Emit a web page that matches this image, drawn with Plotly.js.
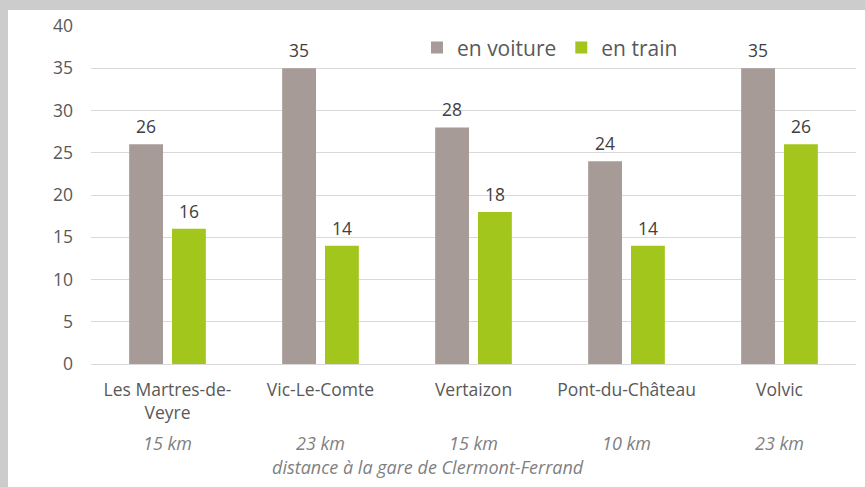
<!DOCTYPE html>
<html>
<head>
<meta charset="utf-8">
<script src="https://cdn.plot.ly/plotly-3.0.1.min.js"></script>
<style>
  body { margin: 0; background: #cccccc; }
  #chart { position: absolute; left: 8px; top: 10px; width: 857px; height: 477px; background: #fff; }
</style>
</head>
<body>
<div id="chart"></div>
<script>
// Temps de trajet (minutes) vers Clermont-Ferrand
var villes = ['Les Martres-de-<br>Veyre', 'Vic-Le-Comte', 'Vertaizon', 'Pont-du-Château', 'Volvic'];
var distances = ['15 km', '23 km', '15 km', '10 km', '23 km'];
var voiture = [26, 35, 28, 24, 35];
var train = [16, 14, 18, 14, 26];
var yTicks = [0, 5, 10, 15, 20, 25, 30, 35, 40];

var couleurVoiture = '#a69b97';
var couleurTrain = '#a2c61c';

var plotDiv = document.getElementById('chart');

var data = [
  {
    type: 'bar',
    name: 'en voiture',
    x: villes,
    y: voiture,
    marker: { color: couleurVoiture },
    hoverinfo: 'y'
  },
  {
    type: 'bar',
    name: 'en train',
    x: villes,
    y: train,
    marker: { color: couleurTrain },
    hoverinfo: 'y'
  }
];

var annotations = [];

// valeurs au-dessus des barres
for (var i = 0; i < villes.length; i++) {
  annotations.push({
    x: villes[i], y: voiture[i], xref: 'x', yref: 'y',
    xshift: -21.5, yshift: 4,
    text: String(voiture[i]),
    yanchor: 'bottom', showarrow: false,
    font: { size: 17.5, color: '#404040' }
  });
  annotations.push({
    x: villes[i], y: train[i], xref: 'x', yref: 'y',
    xshift: 21.5, yshift: 4,
    text: String(train[i]),
    yanchor: 'bottom', showarrow: false,
    font: { size: 17.5, color: '#404040' }
  });
  // distances
  annotations.push({
    x: villes[i], y: 0, xref: 'x', yref: 'paper',
    yshift: -79,
    text: '<i>' + distances[i] + '</i>',
    yanchor: 'middle', showarrow: false,
    font: { size: 18, color: '#7f7f7f' }
  });
}

annotations.push({
  xref: 'paper', yref: 'paper', x: 0.44, y: 0, yshift: -103,
  text: '<i>distance à la gare de Clermont-Ferrand</i>',
  yanchor: 'middle', showarrow: false,
  font: { size: 18, color: '#7f7f7f' }
});

var layout = {
  width: 857,
  height: 477,
  margin: { l: 83, r: 9, t: 16, b: 123 },
  paper_bgcolor: '#ffffff',
  plot_bgcolor: '#ffffff',
  font: { family: '"Open Sans", sans-serif', size: 17.5, color: '#595959' },
  barmode: 'group',
  bargap: 0.44,
  bargroupgap: 0.21,
  showlegend: true,
  legend: {
    orientation: 'h',
    x: 0.6, y: 0.935,
    xanchor: 'center', yanchor: 'middle',
    font: { size: 21, color: '#595959' },
    bgcolor: 'rgba(0,0,0,0)'
  },
  xaxis: {
    showgrid: false,
    showline: true,
    linecolor: '#d9d9d9',
    linewidth: 1,
    ticks: '',
    ticklabelstandoff: 10,
    tickfont: { size: 17.5, color: '#595959' }
  },
  yaxis: {
    range: [0, 40],
    tickvals: yTicks,
    showgrid: true,
    gridcolor: '#d9d9d9',
    gridwidth: 1,
    zeroline: false,
    showline: false,
    ticks: '',
    ticklabelstandoff: 17,
    tickfont: { size: 17.5, color: '#595959' }
  },
  annotations: annotations
};

Plotly.newPlot(plotDiv, data, layout, { displayModeBar: false });
</script>
</body>
</html>
